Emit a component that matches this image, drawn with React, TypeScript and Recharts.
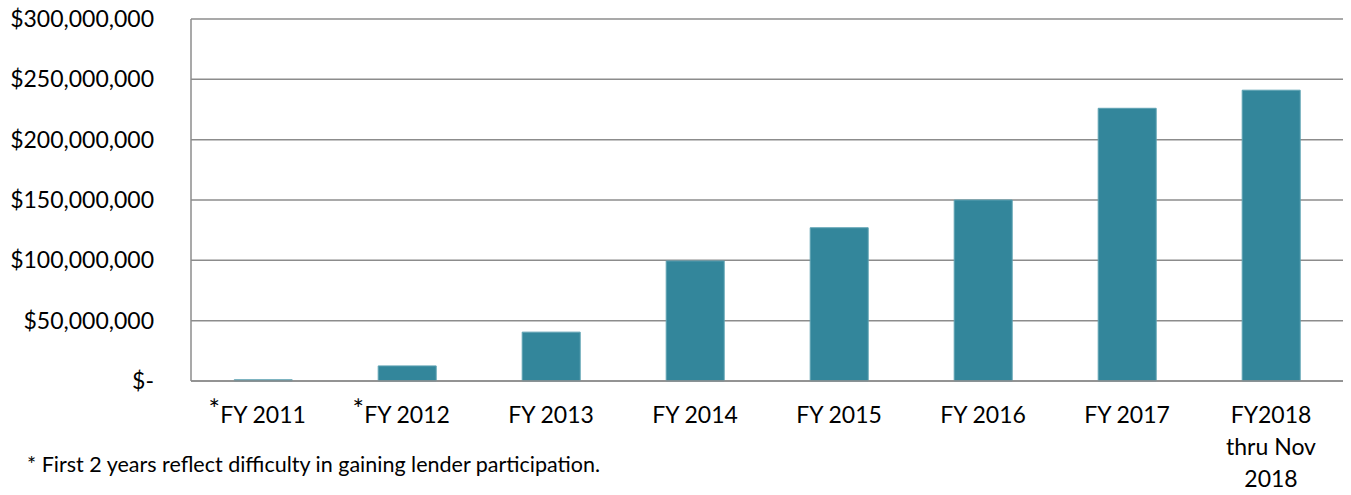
import { BarChart, Bar, XAxis, YAxis, CartesianGrid } from "recharts";

const categories = ["FY 2011", "FY 2012", "FY 2013", "FY 2014", "FY 2015", "FY 2016", "FY 2017", "FY2018\nthru Nov\n2018"];
const amounts = [1000000, 12500000, 40500000, 99500000, 127000000, 150000000, 226000000, 241000000];
const footnoted = ["FY 2011", "FY 2012"];
const yTicks = [0, 50000000, 100000000, 150000000, 200000000, 250000000, 300000000];

const data = categories.map((name, i) => ({ name, amount: amounts[i] }));

const FONT = "Lato, 'Open Sans', sans-serif";

const money = (v: number) => (v === 0 ? "$-" : "$" + v.toLocaleString("en-US"));

const CategoryTick = (props: any) => {
  const { x, y, payload } = props;
  const lines = String(payload.value).split("\n");
  const star = footnoted.includes(payload.value);
  return (
    <g>
      <text x={x} y={y + 34} textAnchor="middle" fontSize={23} fill="#000" fontFamily={FONT}>
        {lines.map((l, i) => (
          <tspan key={i} x={x} dy={i === 0 ? 0 : 32}>
            {l}
          </tspan>
        ))}
      </text>
      {star && (
        <text x={x - 43} y={y + 34} textAnchor="end" fontSize={27} fill="#000" fontFamily={FONT}>
          <tspan dy={-4}>*</tspan>
        </text>
      )}
    </g>
  );
};

export default function App() {
  return (
    <div style={{ position: "relative", width: 1351, height: 495, background: "#fff" }}>
      <style>{`body{margin:0}`}</style>
      <BarChart
        width={1351}
        height={495}
        data={data}
        margin={{ top: 19, right: 8, bottom: 0, left: 0 }}
        barCategoryGap="30%"
      >
        <CartesianGrid vertical={false} stroke="#8c8c8c" strokeWidth={1.5} />
        <XAxis
          dataKey="name"
          height={114}
          tickLine={false}
          axisLine={{ stroke: "#8c8c8c", strokeWidth: 1.5 }}
          tick={<CategoryTick />}
          interval={0}
        />
        <YAxis
          width={191}
          domain={[0, 300000000]}
          ticks={yTicks}
          tickFormatter={money}
          tickLine={false}
          axisLine={{ stroke: "#8c8c8c", strokeWidth: 1.5 }}
          tickMargin={31}
          tick={{ fontSize: 23, fill: "#000", fontFamily: FONT }}
        />
        <Bar dataKey="amount" fill="#33869b" stroke="#5fa2b3" strokeWidth={1} isAnimationActive={false} />
      </BarChart>
      <div
        style={{
          position: "absolute",
          left: 27,
          top: 451,
          fontSize: 21.5,
          fontFamily: FONT,
          color: "#000",
        }}
      >
        * First 2 years reflect difficulty in gaining lender participation.
      </div>
    </div>
  );
}
